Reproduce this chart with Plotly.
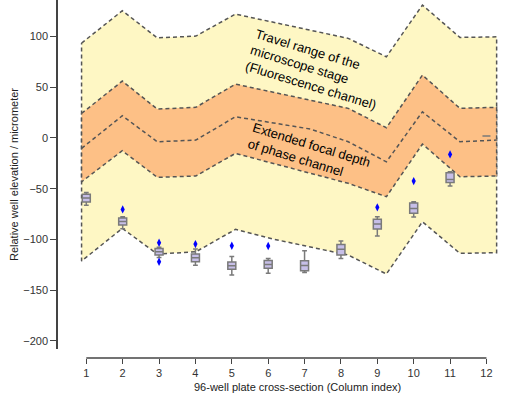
import plotly.graph_objects as go

# band vertices (column index units) and band edges (micrometer)
band_x = [0.87, 1.99, 2.95, 4.01, 5.10, 6.13, 7.16, 8.20, 9.25, 10.24, 11.27, 12.28]
travel_upper = [93.5, 125.4, 98.7, 100.4, 122.1, 114.2, 106.3, 98.2, 80.0, 131.0, 99.1, 99.7]
travel_lower = [-121.3, -89.1, -114.4, -112.2, -90.1, -99.6, -107.5, -115.4, -134.1, -82.6, -113.7, -113.1]
focal_upper = [24.2, 56.1, 28.5, 30.2, 53.1, 45.2, 37.4, 29.2, 10.1, 62.0, 29.2, 30.2]
focal_lower = [-43.2, -12.6, -38.8, -37.5, -15.2, -24.7, -34.6, -44.7, -57.9, -6.0, -38.2, -37.5]
focal_center = [-10.2, 21.9, -3.7, -2.1, 20.9, 14.7, 8.8, -3.7, -23.5, 25.8, -3.7, -2.1]

# box statistics per plate column
columns = [1, 2, 3, 4, 5, 6, 7, 8, 9, 10, 11, 12]
whisk_hi = [-53.8, -77.7, -107.8, -109.5, -116.9, -118.7, -111.2, -101.6, -77.7, -62.9, -33.3, 2.0]
q3 = [-55.5, -78.9, -109.0, -114.4, -122.3, -120.8, -121.0, -104.9, -80.2, -64.2, -34.3, 2.0]
median = [-59.2, -82.4, -112.2, -118.1, -125.9, -124.6, -125.8, -109.8, -84.9, -69.6, -41.0, 2.0]
q1 = [-63.2, -85.8, -115.4, -122.0, -129.4, -128.5, -130.9, -115.4, -89.8, -74.3, -43.8, 2.0]
whisk_lo = [-66.4, -89.5, -117.7, -125.5, -135.1, -133.4, -132.6, -118.7, -96.7, -78.0, -47.4, 2.0]

outlier_x = [2, 3, 3, 4, 5, 6, 9, 10, 11]
outlier_y = [-70.4, -103.3, -122.0, -104.6, -106.3, -106.5, -68.4, -42.5, -16.2]

x_range = [0.222, 12.4]
y_range = [-208, 136]

dash_line = dict(color='#555555', width=1.5, dash='4px,3px')

fig = go.Figure()

# travel range of the stage (yellow band)
fig.add_trace(go.Scatter(
    x=band_x + band_x[::-1] + band_x[:1],
    y=travel_upper + travel_lower[::-1] + travel_upper[:1],
    mode='lines', fill='toself', fillcolor='#fef7c4',
    line=dash_line, hoverinfo='skip', showlegend=False
))

# extended focal depth (orange band)
fig.add_trace(go.Scatter(
    x=band_x + band_x[::-1] + band_x[:1],
    y=focal_upper + focal_lower[::-1] + focal_upper[:1],
    mode='lines', fill='toself', fillcolor='#fdc086',
    line=dash_line, hoverinfo='skip', showlegend=False
))

fig.add_trace(go.Scatter(
    x=band_x, y=focal_center, mode='lines',
    line=dash_line, hoverinfo='skip', showlegend=False
))

# well elevation boxes, on an overlaid axis pair so they sit above the bands
fig.add_trace(go.Box(
    x=columns, q1=q1, median=median, q3=q3,
    lowerfence=whisk_lo, upperfence=whisk_hi,
    width=0.22, whiskerwidth=0.6,
    fillcolor='#c7bfe8', line=dict(color='#7a7a7a', width=1.5),
    boxpoints=False, showlegend=False, xaxis='x2', yaxis='y2'
))

fig.add_trace(go.Scatter(
    x=outlier_x, y=outlier_y, mode='markers',
    marker=dict(symbol='diamond-tall', size=6, color='#0000ff'),
    showlegend=False, xaxis='x2', yaxis='y2'
))

# trimmed x spine (offset below the plot)
fig.add_shape(type='line', xref='x', yref='paper', x0=1, x1=12, y0=0, y1=0,
              line=dict(color='#444444', width=1.5))

fig.add_annotation(x=7.31, y=67.9, text='Travel range of the<br>microscope stage<br>(Fluorescence channel)',
                   textangle=17, showarrow=False, align='left',
                   font=dict(size=13, color='black'))
fig.add_annotation(x=7.12, y=-14.9, text='Extended focal depth<br>of phase channel',
                   textangle=17, showarrow=False, align='left',
                   font=dict(size=13, color='black'))

# axis titles
fig.add_annotation(x=(297.5 - 58) / 443, y=(358 - 386.5) / 358, xref='paper', yref='paper',
                   xanchor='center', yanchor='middle',
                   text='96-well plate cross-section (Column index)', showarrow=False,
                   font=dict(size=11, color='#222222'))
fig.add_annotation(x=(14 - 58) / 443, y=(358 - 175) / 358, xref='paper', yref='paper',
                   xanchor='center', yanchor='middle',
                   text='Relative well elevation / micrometer', textangle=-90, showarrow=False,
                   font=dict(size=11, color='#222222'))

fig.update_layout(
    width=512, height=396,
    margin=dict(l=58, r=11, t=0, b=38, autoexpand=False),
    plot_bgcolor='white', paper_bgcolor='white',
    font=dict(family='Liberation Sans, Arial, sans-serif', size=11, color='#333333'),
    xaxis=dict(range=x_range, anchor='free', position=0, showgrid=False, zeroline=False,
               showline=False, tickvals=columns, ticks='outside', ticklen=5, tickwidth=1.2,
               tickcolor='#444444', tickfont=dict(size=11), automargin=False),
    yaxis=dict(range=y_range, domain=[9 / 358, 1], showgrid=False, zeroline=False,
               showline=True, linecolor='#444444', linewidth=1.5,
               tickvals=[-200, -150, -100, -50, 0, 50, 100], ticks='outside', ticklen=6,
               tickwidth=1.2, tickcolor='#444444', tickfont=dict(size=11), automargin=False),
    xaxis2=dict(range=x_range, overlaying='x', visible=False),
    yaxis2=dict(range=y_range, overlaying='y', visible=False)
)

# drop the default page margin so the figure sits at the window's corner
fig.write_html('out.html', config={'displayModeBar': False},
               post_script="document.body.style.margin='0';")
